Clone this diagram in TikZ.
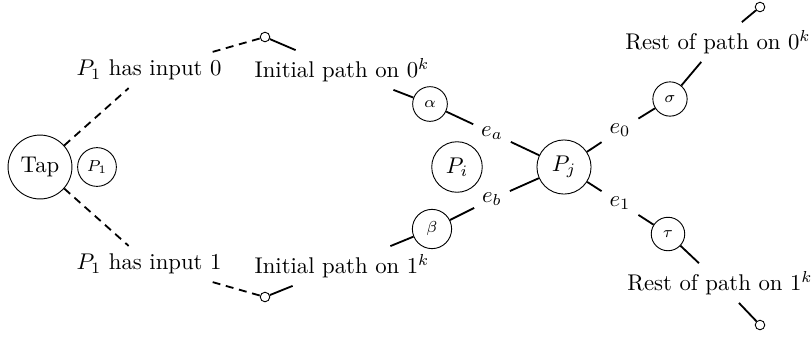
\documentclass[tikz,border=0pt]{standalone}
\usepackage{amsmath, amssymb}
\usepackage{tikz}
\usetikzlibrary{calc, positioning}

\begin{document}
\begin{tikzpicture}[x=0.44pt, y=-0.44pt,
    proc/.style={circle, draw},
    val/.style={circle, draw, font=\scriptsize},
    stub/.style={circle, draw, inner sep=0pt, minimum size=4.2pt},
    seg/.style={thick},
    gap/.style={seg, dash pattern=on 3.5pt off 2.5pt}]
    \useasboundingbox (0,0) rectangle (812,337);

    % processors
    \node[proc] (tap) at (40,167) {Tap};
    \node[val, inner sep=2.3pt] (p1) at (97,167) {$P_1$};
    \node[proc] (pi) at (457,167) {$P_i$};
    \node[proc] (pj) at (564,167) {$P_j$};

    % left branches
    \node (in0) at (149,70) {$P_1$ has input 0};
    \node (in1) at (149,264) {$P_1$ has input 1};
    \node[stub] (c0) at (265,37) {};
    \node[stub] (c1) at (265,297) {};
    \node (init0) at (342,70) {Initial path on $0^k$};
    \node (init1) at (342,266) {Initial path on $1^k$};
    \node[val] (alpha) at (430,104) {$\alpha$};
    \node[val] (beta) at (432,229) {$\beta$};
    \node (ea) at (492,133) {$e_a$};
    \node (eb) at (492,199) {$e_b$};

    % right branches
    \node (e0) at (620,130) {$e_0$};
    \node (e1) at (620,203) {$e_1$};
    \node[val] (sigma) at (670,99) {$\sigma$};
    \node[val] (tau) at (668,234) {$\tau$};
    \node (rest0) at (718,42) {Rest of path on $0^k$};
    \node (rest1) at (720,283) {Rest of path on $1^k$};
    \node[stub] (end0) at (760,7) {};
    \node[stub] (end1) at (760,325) {};

    \draw[gap] (tap) -- (in0) -- (c0);
    \draw[gap] (tap) -- (in1) -- (c1);
    \draw[seg] (c0) -- (init0) -- (alpha) -- (ea) -- (pj);
    \draw[seg] (c1) -- (init1) -- (beta) -- (eb) -- (pj);
    \draw[seg] (pj) -- (e0) -- (sigma) -- (rest0) -- (end0);
    \draw[seg] (pj) -- (e1) -- (tau) -- (rest1) -- (end1);
\end{tikzpicture}
\end{document}
